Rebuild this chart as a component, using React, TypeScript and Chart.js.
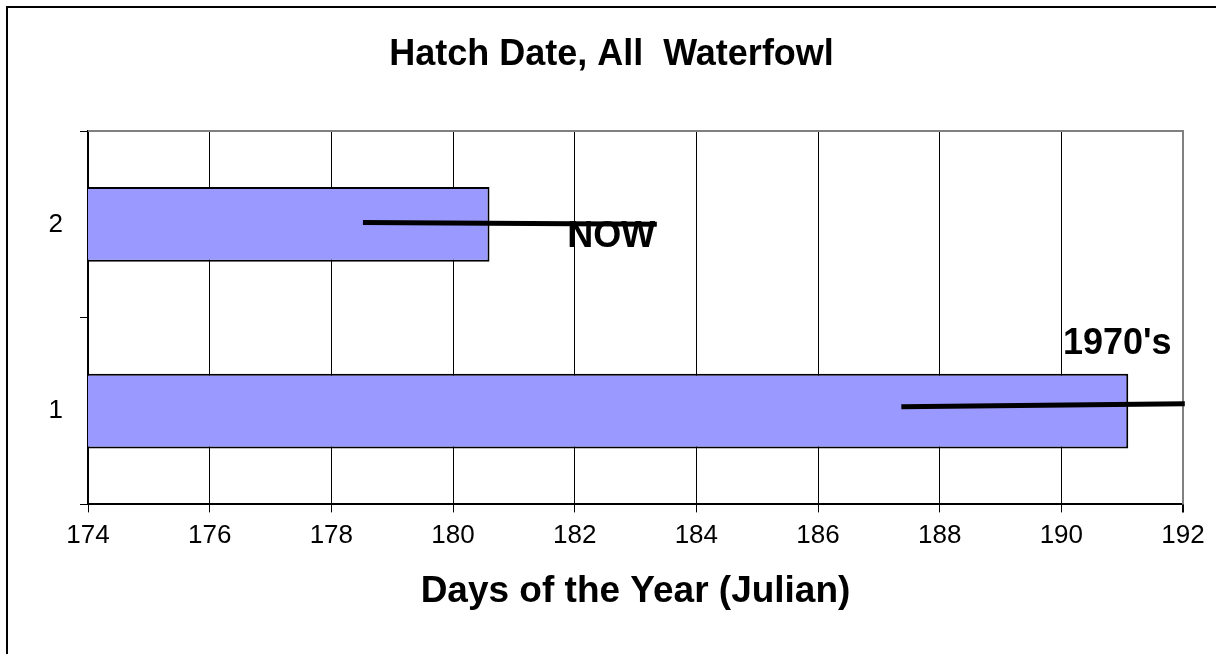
import React, { useEffect, useRef } from 'react';
import { Chart, registerables } from 'chart.js';

Chart.register(...registerables);

// ---- Data ----
const categories = ['1', '2'];
const barValues = [191.1, 180.6];
const xMin = 174;
const xMax = 192;
const xStep = 2;

const nowLineX = [178.52, 183.35];
const nowLineY = [2.01, 2.0];
const seventiesLineX = [187.37, 192.03];
const seventiesLineY = [1.023, 1.039];

const annotationTexts = ['NOW', "1970's"];
const annotationX = [182.6, 190.92];
const annotationY = [1.93, 1.357];

const titleText = 'Hatch Date, All  Waterfowl';
const xAxisTitle = 'Days of the Year (Julian)';

const FONT = '"Liberation Sans", Arial, sans-serif';

const annotationPlugin = {
  id: 'annotationTexts',
  afterDatasetsDraw(chart: any) {
    const { ctx, scales } = chart;
    ctx.save();
    ctx.fillStyle = '#000';
    ctx.font = `bold 36px ${FONT}`;
    ctx.textAlign = 'center';
    ctx.textBaseline = 'middle';
    annotationTexts.forEach((t, i) => {
      const px = scales.x.getPixelForValue(annotationX[i]);
      const py = scales.yLine.getPixelForValue(annotationY[i]);
      ctx.fillText(t, px, py);
    });
    ctx.restore();
  },
};

const plotFramePlugin = {
  id: 'plotFrame',
  beforeDatasetsDraw(chart: any) {
    const { ctx, chartArea } = chart;
    ctx.save();
    ctx.strokeStyle = '#808080';
    ctx.lineWidth = 2;
    ctx.beginPath();
    ctx.moveTo(chartArea.left, chartArea.top);
    ctx.lineTo(chartArea.right, chartArea.top);
    ctx.lineTo(chartArea.right, chartArea.bottom);
    ctx.stroke();
    ctx.restore();
  },
};

export default function App() {
  const ref = useRef<HTMLCanvasElement | null>(null);

  useEffect(() => {
    const canvas = ref.current;
    if (!canvas) return;
    const chart = new Chart(canvas, {
      type: 'bar',
      data: {
        labels: categories,
        datasets: [
          {
            type: 'line',
            label: 'now',
            data: nowLineX.map((x, i) => ({ x, y: nowLineY[i] })),
            indexAxis: 'x',
            xAxisID: 'x',
            yAxisID: 'yLine',
            borderColor: '#000',
            borderWidth: 5,
            pointRadius: 0,
            clip: false,
            order: 0,
          } as any,
          {
            type: 'line',
            label: '1970s',
            data: seventiesLineX.map((x, i) => ({ x, y: seventiesLineY[i] })),
            indexAxis: 'x',
            xAxisID: 'x',
            yAxisID: 'yLine',
            borderColor: '#000',
            borderWidth: 5,
            pointRadius: 0,
            clip: false,
            order: 0,
          } as any,
          {
            type: 'bar',
            label: 'hatch',
            data: barValues,
            xAxisID: 'x',
            yAxisID: 'y',
            backgroundColor: '#9999FF',
            borderColor: '#000',
            borderWidth: 2,
            borderSkipped: false,
            barPercentage: 0.4,
            categoryPercentage: 1,
            grouped: false,
            order: 1,
          } as any,
        ],
      },
      options: {
        indexAxis: 'y',
        responsive: false,
        animation: false,
        devicePixelRatio: 1,
        layout: { padding: { left: 40, right: 33, top: 0, bottom: 40 } },
        plugins: {
          legend: { display: false },
          tooltip: { enabled: false },
          title: {
            display: true,
            text: titleText,
            color: '#000',
            font: { family: FONT, size: 36, weight: 'bold', lineHeight: 1.2 },
            padding: { top: 33, bottom: 54.8 },
          },
        },
        scales: {
          x: {
            type: 'linear',
            position: 'bottom',
            min: xMin,
            max: xMax,
            offset: false,
            ticks: {
              stepSize: xStep,
              color: '#000',
              padding: 8,
              font: { family: FONT, size: 26, lineHeight: 1.2 },
            },
            grid: {
              color: (c: any) => (c.tick && c.tick.value === xMax ? '#808080' : '#000'),
              lineWidth: (c: any) => (c.tick && c.tick.value === xMax ? 2 : 1),
              tickLength: 8,
              tickColor: '#000',
            },
            border: { display: true, color: '#000', width: 2 },
            title: {
              display: true,
              text: xAxisTitle,
              color: '#000',
              font: { family: FONT, size: 37, weight: 'bold', lineHeight: 1.2 },
              padding: { top: 10, bottom: 0 },
            },
          },
          y: {
            type: 'category',
            position: 'left',
            reverse: true,
            offset: true,
            ticks: {
              color: '#000',
              padding: 17,
              font: { family: FONT, size: 26, lineHeight: 1.2 },
            },
            grid: {
              offset: true,
              drawOnChartArea: false,
              tickLength: 8,
              color: '#000',
            },
            border: { display: true, color: '#000', width: 2 },
            afterFit: (s: any) => {
              s.width = 48;
            },
          },
          yLine: {
            type: 'linear',
            axis: 'y',
            position: 'left',
            display: false,
            offset: false,
            beginAtZero: false,
            min: 0.5,
            max: 2.5,
          },
        },
      } as any,
      plugins: [plotFramePlugin, annotationPlugin],
    });
    return () => chart.destroy();
  }, []);

  return (
    <div
      style={{
        position: 'fixed',
        left: 0,
        top: 0,
        width: 1216,
        height: 654,
        background: '#fff',
        overflow: 'hidden',
      }}
    >
      <canvas ref={ref} width={1216} height={654} style={{ position: 'absolute', left: 0, top: 0 }} />
      <div
        style={{
          position: 'absolute',
          left: 6,
          top: 6,
          width: 1300,
          height: 700,
          borderTop: '2px solid #000',
          borderLeft: '2px solid #000',
          pointerEvents: 'none',
        }}
      />
    </div>
  );
}
